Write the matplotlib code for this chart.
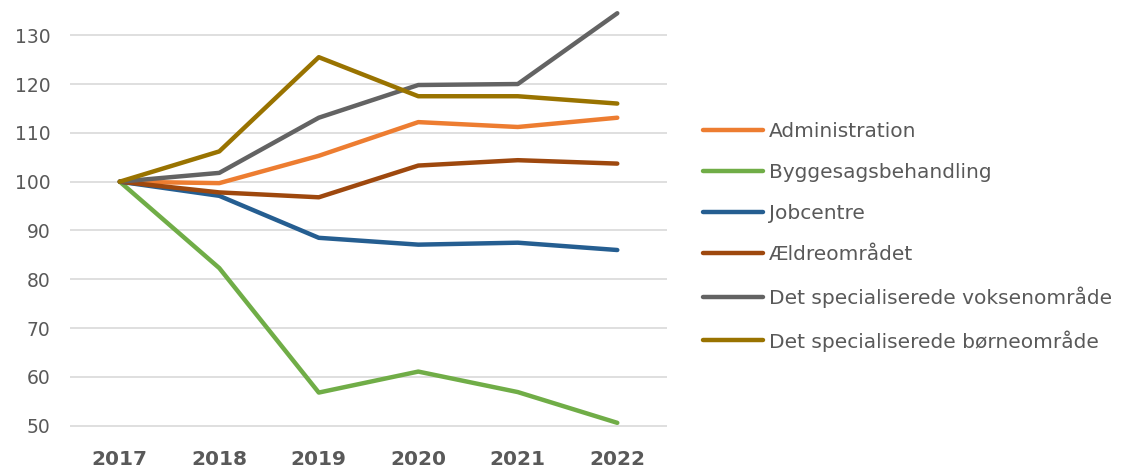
import matplotlib.pyplot as plt

years = [2017, 2018, 2019, 2020, 2021, 2022]

administration = [100, 99.7, 105.3, 112.2, 111.2, 113.1]
byggesag = [100, 82.3, 56.8, 61.1, 56.9, 50.6]
jobcentre = [100, 97.1, 88.5, 87.1, 87.5, 86.0]
aeldre = [100, 97.8, 96.8, 103.3, 104.4, 103.7]
voksen = [100, 101.8, 113.1, 119.8, 120.0, 134.5]
boerne = [100, 106.2, 125.5, 117.5, 117.5, 116.0]

series = [
    ("Administration", administration, "#ed7d31"),
    ("Byggesagsbehandling", byggesag, "#70ad47"),
    ("Jobcentre", jobcentre, "#255e91"),
    ("Ældreområdet", aeldre, "#9e480e"),
    ("Det specialiserede voksenområde", voksen, "#636363"),
    ("Det specialiserede børneområde", boerne, "#997300"),
]

yticks = [50, 60, 70, 80, 90, 100, 110, 120, 130]

plt.rcParams['font.family'] = ['DejaVu Sans']

fig = plt.figure(figsize=(11.35, 4.68), dpi=100)
ax = fig.add_axes([0.0617, 0.06, 0.526, 0.919])

for name, vals, col in series:
    ax.plot(years, vals, color=col, linewidth=3.2, label=name, solid_capstyle='round')

ax.set_xlim(2016.5, 2022.5)
ax.set_ylim(47.1, 135.2)
ax.set_yticks(yticks)
ax.set_xticks(years)
ax.set_xticklabels([str(y) for y in years], fontweight='bold', fontsize=14.5, color='#595959')
ax.tick_params(axis='y', labelsize=13.5, colors='#595959', length=0, pad=14)
ax.tick_params(axis='x', length=0, pad=7)
ax.grid(axis='y', color='#d9d9d9', linewidth=1.2)
ax.set_axisbelow(True)
for sp in ax.spines.values():
    sp.set_visible(False)

leg = fig.legend(loc='upper left', bbox_to_anchor=(0.612, 0.757), frameon=False,
                 fontsize=14.5, labelcolor='#595959', handlelength=3.0,
                 handletextpad=0.3, labelspacing=1.1, borderaxespad=0)

fig.savefig('out.png', dpi=100)
